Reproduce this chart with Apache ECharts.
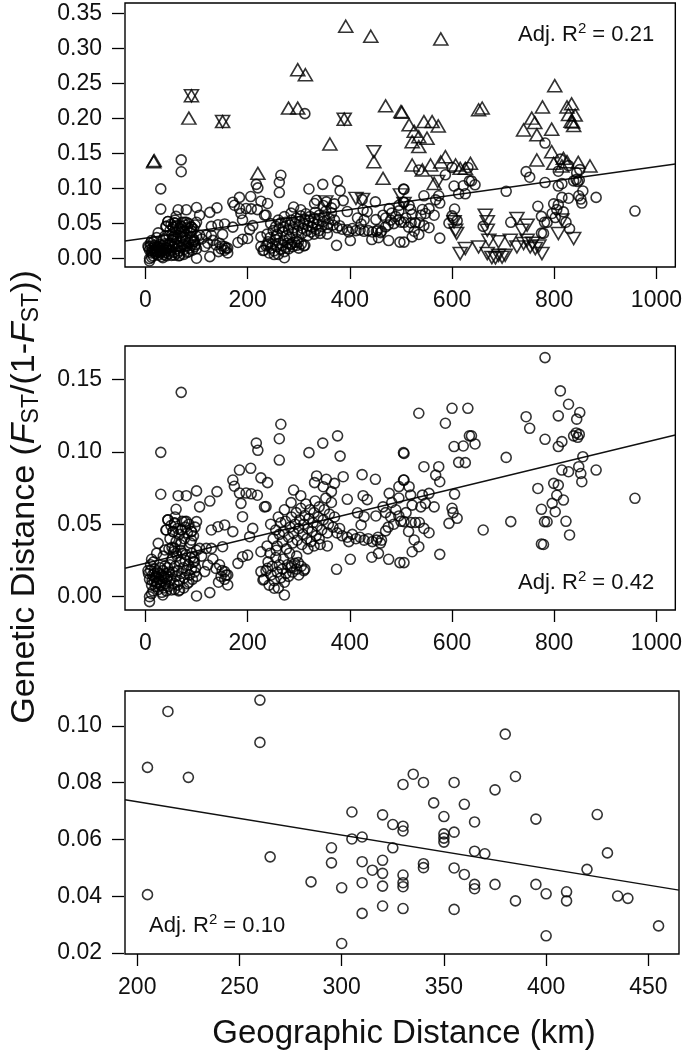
<!DOCTYPE html>
<html>
<head>
<meta charset="utf-8">
<script src="https://cdn.jsdelivr.net/npm/echarts@6/dist/echarts.min.js"></script>
<style>
html,body{margin:0;padding:0;background:#fff;}
#chart{width:685px;height:1055px;}
</style>
</head>
<body>
<div id="chart"></div>
<script>
// ---------- DATA ----------
const circlesMain = [
 [8,0.012],[10,0.018],[12,0.008],[14,0.015],[15,0.004],[17,0.011],[18,0.019],[20,0.007],[21,0.014],[23,0.01],
 [24,0.017],[25,0.005],[27,0.012],[28,0.02],[30,0.008],[31,0.015],[33,0.011],[34,0.018],[36,0.006],[37,0.013],
 [39,0.009],[40,0.016],[42,0.012],[43,0.02],[45,0.007],[10,0.022],[16,0.024],[22,0.009],[26,0.016],[32,0.003],
 [38,0.021],[44,0.014],[12,0.002],[19,0.013],[29,0.01],[35,0.014],[41,0.004],[6,0.016],[13,0.011],[47,0.017],
 [48,0.022],[50,0.012],[52,0.026],[54,0.017],[56,0.009],[58,0.021],[60,0.014],[62,0.028],[64,0.018],[66,0.011],
 [68,0.024],[70,0.016],[72,0.03],[74,0.02],[76,0.013],[78,0.025],[80,0.018],[82,0.009],[84,0.022],[86,0.015],
 [88,0.027],[90,0.019],[92,0.012],[94,0.024],[96,0.017],[98,0.02],[57,0.005],[63,0.008],[75,0.006],[85,0.01],
 [69,0.032],[79,0.029],[55,0.031],[91,0.03],[65,0.004],[100,0.014],
 [40,0.046],[44,0.053],[48,0.04],[50,0.049],[54,0.045],[57,0.051],[60,0.038],[63,0.047],[66,0.043],[70,0.046],
 [72,0.052],[76,0.04],[78,0.048],[82,0.044],[85,0.05],[88,0.037],[90,0.045],[94,0.042],[97,0.048],[52,0.034],
 [68,0.036],[80,0.052],[58,0.055],[22,0.03],[35,0.028],[46,0.033],[60,0.03],[95,0.027],[100,0.032],
 [70,0.141],[30,0.0996],[217,0.106],[220,0.101],[30,0.0707],[64,0.0697],[80,0.0697],[100,0.073],[60,0.0603],[106,0.062],
 [126,0.066],[140,0.0725],[171,0.0805],[184,0.0874],[206,0.0886],[226,0.082],[174,0.0762],[184,0.0715],[197,0.0715],[207,0.071],
 [219,0.07],[187,0.0644],[233,0.062],[190,0.0552],[44,0.053],[57,0.0506],[77,0.0518],[100,0.0518],[41,0.046],[54,0.0449],
 [70,0.046],[90,0.0449],[129,0.046],[142,0.0483],[155,0.0495],[171,0.0449],[210,0.0471],[204,0.0414],[25,0.0368],[38,0.0322],
 [57,0.0333],[70,0.0379],[90,0.039],[106,0.0333],[119,0.0333],[129,0.0333],[151,0.0345],[181,0.023],[190,0.0276],[200,0.0287],
 [226,0.031],[12,0.0258],[5,0.018],[18,0.0161],[96,0.0242],[122,0.0219],[138,0.0195],[155,0.0173],[161,0.015],[116,0.0173],
 [148,0.014],[158,0.015],[161,0.0081],[100,0.0005],[126,0.0028],[8,0.0],[8,-0.0034],[34,0.0012],[51,0.0046],[67,0.0046],
 [226,0.0173],[239,0.0196],[230,0.0115],[110,0.028],[132,0.026],[145,0.022],[150,0.018],[155,0.012],[143,0.01],
 [232,0.012],[236,0.018],[240,0.024],[242,0.008],[246,0.015],[248,0.021],[252,0.011],[255,0.027],[258,0.017],[260,0.006],
 [262,0.022],[265,0.013],[268,0.019],[270,0.026],[272,0.01],[275,0.016],[278,0.022],[280,0.014],[284,0.02],[288,0.017],
 [292,0.023],[296,0.019],[300,0.015],[305,0.021],[310,0.018],[252,0.0058],[272,0.0012],[299,0.0235],[286,0.0212],[312,0.019],
 [244,0.03],[256,0.032],
 [250,0.04],[255,0.046],[258,0.035],[262,0.043],[265,0.051],[268,0.038],[270,0.045],[274,0.052],[276,0.033],[280,0.041],
 [283,0.048],[286,0.055],[288,0.037],[290,0.044],[293,0.05],[295,0.058],[297,0.039],[300,0.047],[302,0.053],[304,0.061],
 [306,0.036],[308,0.043],[310,0.05],[312,0.056],[314,0.064],[316,0.04],[318,0.047],[320,0.054],[322,0.06],[324,0.038],
 [326,0.045],[328,0.051],[330,0.058],[332,0.066],[334,0.042],[336,0.049],[338,0.055],[340,0.062],[342,0.036],[345,0.046],
 [348,0.053],[350,0.06],[353,0.068],[356,0.044],[358,0.05],[360,0.057],[364,0.065],[367,0.048],[370,0.055],[282,0.03],
 [296,0.028],[318,0.033],[330,0.035],[340,0.04],[260,0.055],[272,0.06],[245,0.05],[238,0.035],
 [265,0.119],[262,0.109],[262,0.0943],[320,0.0994],[347,0.106],[376,0.111],[381,0.097],[239,0.0787],[236,0.0622],[290,0.0736],
 [285,0.0649],[304,0.0697],[335,0.0833],[354,0.081],[387,0.0828],[331,0.0787],[348,0.0759],[364,0.0725],[370,0.0782],[424,0.0842],
 [450,0.081],[395,0.0672],[426,0.0697],[434,0.067],[415,0.0579],[428,0.0552],[451,0.0557],[422,0.0495],[356,0.035],[401,0.0258],
 [443,0.0272],[456,0.0299],[476,0.0258],[498,0.0235],[374,0.0189],
 [375,0.044],[385,0.042],[395,0.041],[405,0.043],[412,0.04],[420,0.041],[428,0.039],[436,0.04],[444,0.038],[452,0.039],
 [460,0.037],[470,0.0454],[462,0.039],[455,0.041],[380,0.047],[398,0.038],
 [465,0.062],[470,0.058],[480,0.055],[486,0.05],[490,0.06],[500,0.052],[510,0.058],[515,0.045],[482,0.065],[475,0.048],
 [535,0.1266],[600,0.130],[631,0.130],[587,0.1197],[745,0.1242],[752,0.1162],[782,0.1086],[634,0.111],[638,0.111],[645,0.1054],
 [604,0.1036],[622,0.104],[613,0.0927],[626,0.0925],[706,0.0961],[545,0.0897],[574,0.0897],[568,0.0839],[576,0.0793],[506,0.0988],
 [506,0.0805],[516,0.0759],[519,0.0701],[542,0.0701],[555,0.0713],[548,0.0644],[565,0.062],[522,0.0632],[539,0.062],[605,0.0708],
 [600,0.061],[602,0.058],[610,0.0541],[594,0.0506],[506,0.0518],[520,0.0512],[528,0.0512],[536,0.0512],[545,0.0471],[555,0.0441],
 [526,0.0391],[535,0.0345],[522,0.031],[576,0.0292],[506,0.0235],[661,0.046],[715,0.0518],[768,0.0747],[775,0.0603],[781,0.0518],
 [775,0.0364],[496,0.0557],[477,0.0713],[496,0.076],[505,0.0805],[496,0.0681],[505,0.0994],
 [782,0.165],[812,0.142],[828,0.1328],[808,0.1248],[850,0.1271],[844,0.1225],[838,0.111],[843,0.113],[849,0.112],[846,0.11],
 [815,0.107],[808,0.1036],[856,0.0966],[848,0.0897],[852,0.085],[854,0.0793],[882,0.0874],[815,0.0874],[828,0.0862],[799,0.0782],
 [808,0.077],[805,0.07],[796,0.0644],[818,0.0667],[802,0.0586],[786,0.0517],[823,0.052],[830,0.0426],[779,0.036],[958,0.0679]
];
const circlesTopExtra = [[70,0.124],[312,0.207]];
const trianglesUp = [
 [16,0.1384],[17,0.1400],[90,0.2325],[85,0.2006],[151,0.1957],[220,0.1218],[298,0.2698],[313,0.2626],[280,0.2149],[298,0.2149],
 [392,0.3318],[441,0.3175],[578,0.3137],[389,0.1991],[361,0.1637],[447,0.1384],[465,0.1146],[470,0.2182],[500,0.21],[502,0.209],
 [516,0.191],[526,0.1818],[545,0.1957],[561,0.1957],[573,0.1895],[535,0.174],[551,0.172],[522,0.167],[535,0.16],[652,0.2125],
 [659,0.215],[801,0.2469],[756,0.2006],[762,0.1943],[777,0.2166],[834,0.221],[825,0.2166],[828,0.2058],[841,0.2049],[833,0.1963],
 [740,0.1838],[795,0.1848],[766,0.1767],[795,0.1527],[766,0.1408],[799,0.136],[818,0.1432],[825,0.1384],[870,0.1322],[847,0.1375],
 [815,0.1323],[522,0.1337],[542,0.1265],[558,0.1337],[587,0.1456],[607,0.1337],[616,0.1289],[636,0.136],[626,0.1289],[565,0.1074],
 [578,0.138],[836,0.195],[838,0.19]
];
const trianglesDown = [
 [90,0.2325],[151,0.1957],[389,0.1991],[447,0.1527],[412,0.086],[425,0.0845],[499,0.091],[353,0.081],[572,0.11],[506,0.0788],
 [604,0.0525],[607,0.0405],[665,0.062],[669,0.0525],[669,0.0405],[727,0.0573],[747,0.0477],[737,0.0405],[808,0.0358],[838,0.0287],
 [815,0.055],[616,0.0072],[626,0.0143],[652,0.0167],[669,0.0072],[678,0.0015],[691,0.0048],[704,0.0048],[714,0.0262],[727,0.0167],
 [740,0.0215],[753,0.0167],[763,0.0143],[776,0.0072],[672,0.0262],[691,0.0239],[747,0.0262],[685,0.001],[698,0.002],[758,0.022],
 [770,0.018],[609,0.036]
];
const circlesC = [
 [205,0.0854],[205,0.0406],[215,0.1051],[225,0.0819],[260,0.1091],[260,0.0942],[265,0.0539],[285,0.0451],[295,0.0571],[295,0.0518],
 [300,0.043],[300,0.0234],[305,0.0697],[305,0.0602],[310,0.0609],[310,0.0522],[310,0.0448],[310,0.034],[315,0.0492],[320,0.0687],
 [320,0.0527],[320,0.0481],[320,0.0436],[320,0.0366],[325,0.0653],[325,0.0571],[330,0.0794],[330,0.0647],[330,0.063],[330,0.0475],
 [330,0.0448],[330,0.0434],[330,0.0357],[335,0.083],[340,0.0801],[340,0.0515],[340,0.0501],[345,0.0729],[350,0.0681],[350,0.062],
 [350,0.0605],[350,0.0591],[355,0.0801],[355,0.0626],[355,0.05],[355,0.0354],[360,0.0724],[360,0.0477],[365,0.0662],[365,0.0559],
 [365,0.0442],[365,0.0427],[370,0.055],[375,0.0775],[375,0.0442],[380,0.0971],[385,0.0822],[385,0.0384],[395,0.0672],[395,0.0442],
 [400,0.0409],[400,0.0261],[410,0.0416],[410,0.0384],[420,0.0495],[425,0.0688],[430,0.0553],[435,0.0401],[440,0.0393],[455,0.0296]
];
const fitA = [[-40,0.0252],[1037,0.1351]];
const fitB = [[-40,0.0196],[1037,0.1116]];
const fitC = [[194,0.074],[465,0.0422]];
const ticksX_AB = [0,200,400,600,800,1000];
const ticksY_A = [0,0.05,0.10,0.15,0.20,0.25,0.30,0.35];
const ticksY_B = [0,0.05,0.10,0.15];
const ticksX_C = [200,250,300,350,400,450];
const ticksY_C = [0.02,0.04,0.06,0.08,0.10];
const r2Labels = ['0.21','0.42','0.10'];

// ---------- CHART ----------
const FONT = '"Liberation Sans", Arial, Helvetica, sans-serif';
const chart = echarts.init(document.getElementById('chart'), null, {renderer:'canvas'});

const grids = [
  {left:125, top:3, width:554, height:264},
  {left:125, top:346, width:554, height:264},
  {left:125, top:691, width:554, height:263}
].map(g => Object.assign(g, {show:true, borderColor:'#000', borderWidth:1.4, backgroundColor:'transparent'}));

function xAx(gi, min, max, ticks){
  return {type:'value', gridIndex:gi, min:min, max:max,
    axisLine:{show:false, onZero:false}, splitLine:{show:false},
    axisTick:{show:true, inside:false, customValues:ticks, length:12, lineStyle:{color:'#000', width:1.3}},
    axisLabel:{customValues:ticks, fontSize:23, color:'#111', fontFamily:FONT, margin:22,
      formatter: v => String(v)}};
}
function yAx(gi, min, max, ticks){
  return {type:'value', gridIndex:gi, min:min, max:max, offset:1,
    axisLine:{show:false, onZero:false}, splitLine:{show:false},
    axisTick:{show:true, inside:false, customValues:ticks, length:12, lineStyle:{color:'#000', width:1.3}},
    axisLabel:{customValues:ticks, fontSize:23, color:'#111', fontFamily:FONT, margin:22,
      formatter: v => v.toFixed(2)}};
}
const pointStyle = {color:'rgba(0,0,0,0)', borderColor:'#000', borderWidth:1.6};
function circles(gi, data){
  return {type:'scatter', xAxisIndex:gi, yAxisIndex:gi, data:data, symbol:'circle', symbolSize:10,
    itemStyle:pointStyle, silent:true};
}
function fit(gi, data){
  return {type:'line', xAxisIndex:gi, yAxisIndex:gi, data:data, symbol:'none',
    lineStyle:{color:'#111', width:1.4}, silent:true, z:1};
}
function r2(x, y, val){
  return {type:'text', x:x, y:y, style:{
    text:'{a|Adj. R}{s|2}{a| = ' + val + '}',
    verticalAlign:'middle', align:'left',
    rich:{a:{fontSize:22, fontFamily:FONT, fill:'#111'},
          s:{fontSize:15, fontFamily:FONT, fill:'#111', padding:[0,0,12,0]}}}};
}

chart.setOption({
  animation:false,
  backgroundColor:'#fff',
  grid: grids,
  xAxis:[xAx(0,-40,1037,ticksX_AB), xAx(1,-40,1037,ticksX_AB), xAx(2,194,465,ticksX_C)],
  yAxis:[yAx(0,-0.012,0.365,ticksY_A), yAx(1,-0.0092,0.173,ticksY_B), yAx(2,0.0197,0.1123,ticksY_C)],
  series:[
    fit(0, fitA),
    circles(0, circlesMain.concat(circlesTopExtra)),
    {type:'scatter', xAxisIndex:0, yAxisIndex:0, data:trianglesUp, symbol:'triangle', symbolSize:[14,12],
      itemStyle:pointStyle, silent:true},
    {type:'scatter', xAxisIndex:0, yAxisIndex:0, data:trianglesDown, symbol:'triangle', symbolRotate:180, symbolSize:[14,12],
      itemStyle:pointStyle, silent:true},
    fit(1, fitB),
    circles(1, circlesMain),
    fit(2, fitC),
    circles(2, circlesC)
  ],
  graphic:[
    r2(518, 35, r2Labels[0]),
    r2(518, 583, r2Labels[1]),
    r2(149, 926, r2Labels[2]),
    {type:'text', x:404, y:1034, style:{text:'Geographic Distance (km)', fontSize:33, fontFamily:FONT, fill:'#111',
      align:'center', verticalAlign:'middle'}},
    {type:'text', x:25, y:497, rotation:Math.PI/2, style:{
      text:'{n|Genetic Distance (}{i|F}{b|ST}{n|/(1-}{i|F}{b|ST}{n|))}',
      align:'center', verticalAlign:'middle',
      rich:{n:{fontSize:34, fontFamily:FONT, fill:'#111'},
            i:{fontSize:34, fontFamily:FONT, fontStyle:'italic', fill:'#111'},
            b:{fontSize:23, fontFamily:FONT, fill:'#111', padding:[13,0,0,0]}}}}
  ]
});
</script>
</body>
</html>
